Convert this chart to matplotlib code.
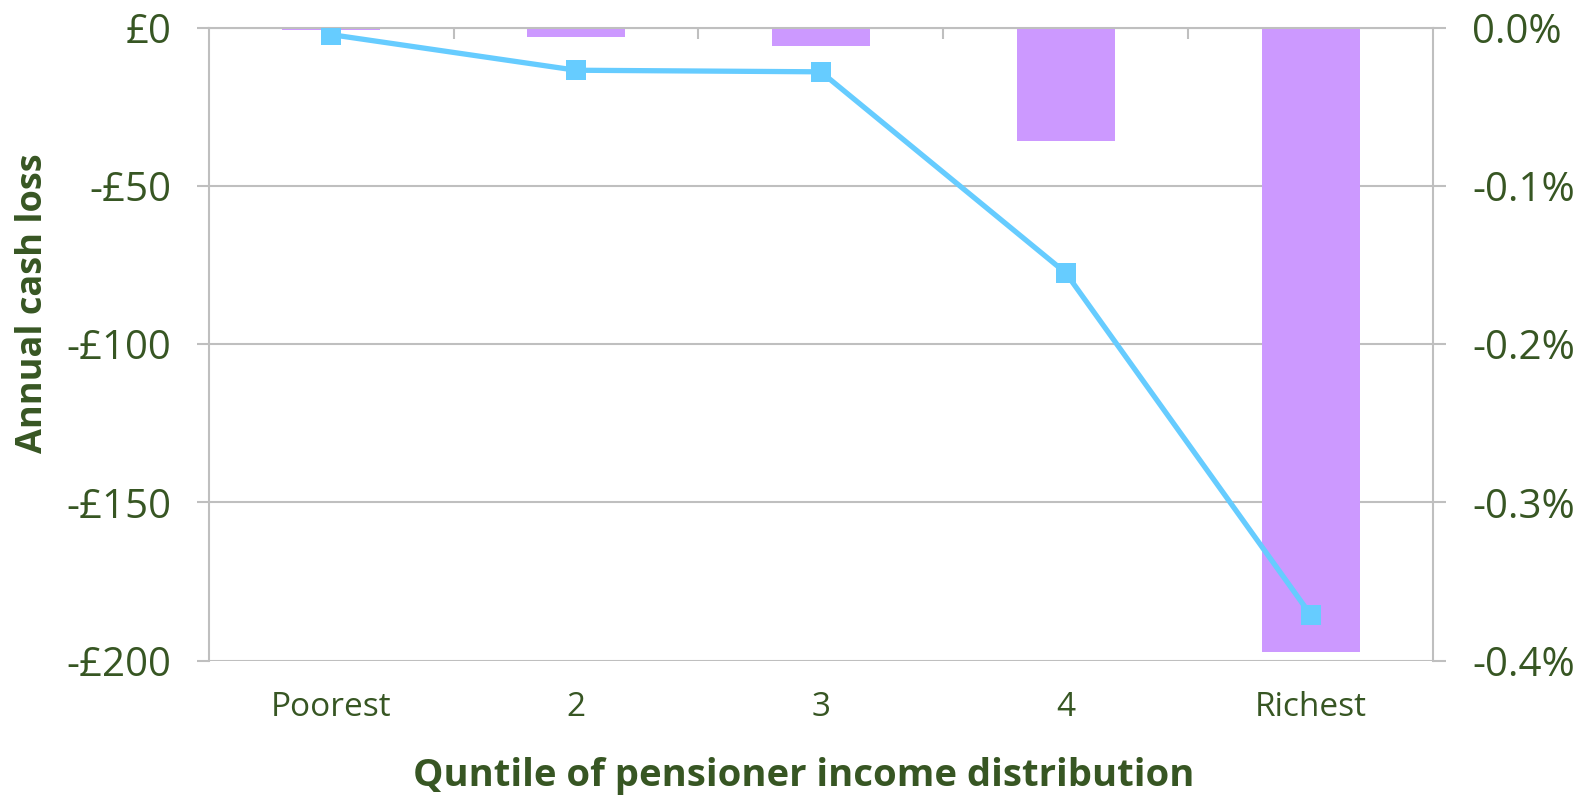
import matplotlib.pyplot as plt
import numpy as np
from matplotlib.ticker import FuncFormatter, FixedLocator

# Data
quintiles = ['Poorest', '2', '3', '4', 'Richest']
cash_loss = [-0.8, -3.1, -5.8, -35.8, -197.2]          # £ per year (left axis)
pct_loss = [-0.0045, -0.027, -0.028, -0.155, -0.371]    # % of income (right axis)

TEXT = '#375623'
GRID = '#BFBFBF'
BAR = '#CC99FF'
LINE = '#66CCFF'

plt.rcParams['font.family'] = ['Open Sans', 'DejaVu Sans']

W, H = 1596, 796
fig = plt.figure(figsize=(W / 100, H / 100), dpi=100)
left, right, top, bottom = 208.7, 1433, 27.5, 660.6
ax = fig.add_axes([left / W, 1 - bottom / H, (right - left) / W, (bottom - top) / H])
ax2 = ax.twinx()

x = np.arange(len(quintiles))
ax.bar(x, cash_loss, width=0.4, color=BAR, zorder=2)
ax2.plot(x, pct_loss, color=LINE, lw=3.8, marker='s', markersize=14,
         markeredgewidth=0, zorder=3, solid_joinstyle='miter')

ax.set_xlim(-0.5, len(quintiles) - 0.5)
ax.set_ylim(-200, 0)
ax2.set_ylim(-0.4, 0)
ax.set_yticks([0, -50, -100, -150, -200])
ax2.set_yticks([0, -0.1, -0.2, -0.3, -0.4])

ax.yaxis.set_major_formatter(FuncFormatter(
    lambda v, p: '£0' if v == 0 else f'-£{abs(v):.0f}'))
ax2.yaxis.set_major_formatter(FuncFormatter(
    lambda v, p: '0.0%' if abs(v) < 1e-9 else f'-{abs(v):.1f}%'))

ax.grid(axis='y', color=GRID, lw=1.5, zorder=0)
ax.set_axisbelow(True)

for a in (ax, ax2):
    for s in a.spines.values():
        s.set_visible(False)
for a, side in ((ax, 'left'), (ax2, 'right'), (ax, 'top')):
    a.spines[side].set_visible(True)
    a.spines[side].set_color(GRID)
    a.spines[side].set_linewidth(1.5)

# category labels at the bottom, boundary ticks hanging down from the zero line
ax.set_xticks(x)
ax.set_xticklabels(quintiles)
ax.tick_params(axis='x', which='major', length=0, pad=22, labelsize=24,
               labelcolor=TEXT)
ax.xaxis.set_minor_locator(FixedLocator(np.arange(0.5, len(quintiles) - 0.5, 1)))
ax.tick_params(axis='x', which='minor', bottom=False, top=True,
               direction='in', length=8, width=1.5, color=GRID)

ax.tick_params(axis='y', length=9, width=1.5, color=GRID, pad=18,
               labelsize=29, labelcolor=TEXT)
ax2.tick_params(axis='y', length=9, width=1.5, color=GRID, pad=19,
                labelsize=29, labelcolor=TEXT)

ax.set_xlabel('Quntile of pensioner income distribution', fontsize=27.5,
              fontweight='bold', color=TEXT, va='center')
ax.xaxis.set_label_coords((804 - left) / (right - left), (bottom - 776) / (bottom - top))
ax.set_ylabel('Annual cash loss', fontsize=26, fontweight='bold', color=TEXT,
              va='center')
ax.yaxis.set_label_coords((33 - left) / (right - left), (bottom - 303) / (bottom - top))

fig.savefig('out.png', dpi=100)
